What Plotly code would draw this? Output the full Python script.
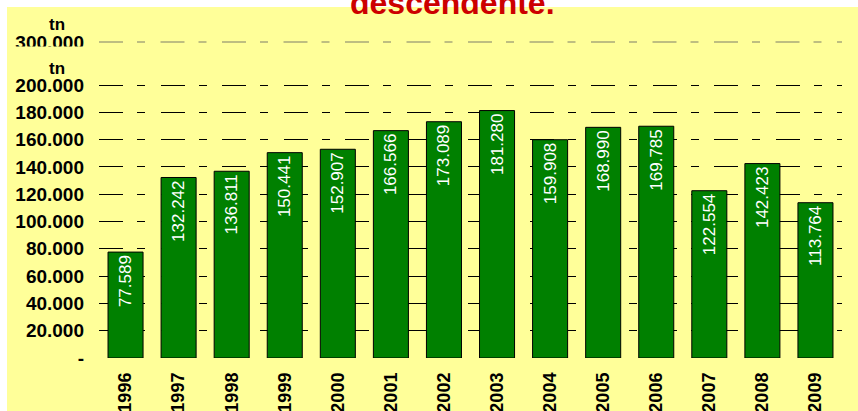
import plotly.graph_objects as go

# ---- data ----
years = ["1996", "1997", "1998", "1999", "2000", "2001", "2002",
         "2003", "2004", "2005", "2006", "2007", "2008", "2009"]
tonnes = [77589, 132242, 136811, 150441, 152907, 166566, 173089,
          181280, 159908, 168990, 169785, 122554, 142423, 113764]
tick_vals = [0, 20000, 40000, 60000, 80000, 100000, 120000, 140000,
             160000, 180000, 200000]
tick_text = ["-", "20.000", "40.000", "60.000", "80.000", "100.000",
             "120.000", "140.000", "160.000", "180.000", "200.000"]
break_label = "300.000"   # label of the upper (broken-axis) reference line
axis_top = 231500         # where the 300.000 reference line sits
unit = "tn"
title_text = "descendente."

bar_text = [f"{v:,}".replace(",", ".") for v in tonnes]

# ---- layout geometry (pixels) ----
W, H = 858, 411
L, R, T, B = 99, 16, 42, 53
PW, PH = W - L - R, H - T - B


def px_x(x):
    return (x - L) / PW


def px_y(y):
    return (H - B - y) / PH


FONT = "Liberation Sans, Arial, sans-serif"
YELLOW = "#FFFF99"
DASH = "24px,14px,8px,15.5px"

fig = go.Figure(go.Bar(
    x=years, y=tonnes,
    text=bar_text,
    textposition="inside",
    insidetextanchor="end",
    textangle=-90,
    textfont=dict(family=FONT, size=17, color="white"),
    marker=dict(color="#008000", line=dict(color="black", width=1)),
    constraintext="none",
    hoverinfo="skip",
))

fig.update_layout(
    width=W, height=H,
    margin=dict(l=L, r=R, t=T, b=B, pad=0, autoexpand=False),
    paper_bgcolor=YELLOW, plot_bgcolor=YELLOW,
    bargap=0.34,
    showlegend=False,
    font=dict(family=FONT, color="black"),
)

fig.update_xaxes(
    type="category",
    tickangle=-90,
    tickfont=dict(family=FONT, size=18, color="black", weight="bold"),
    showgrid=False, showline=False, zeroline=False, ticks="",
    ticklabelstandoff=10,
    automargin=False,
)

fig.update_yaxes(
    range=[0, axis_top],
    tickvals=tick_vals + [axis_top],
    ticktext=tick_text + [break_label],
    tickfont=dict(family=FONT, size=19, color="black", weight="bold"),
    showgrid=True, gridcolor="black", gridwidth=1, griddash=DASH,
    zeroline=False, showline=False, ticks="",
    ticklabelstandoff=14,
    automargin=False,
)

shapes = [
    # white slide margins (top and left)
    dict(type="rect", xref="paper", yref="paper",
         x0=px_x(-5), x1=px_x(W + 5), y0=px_y(7), y1=px_y(-5),
         fillcolor="white", line=dict(width=0), layer="below"),
    dict(type="rect", xref="paper", yref="paper",
         x0=px_x(-5), x1=px_x(7), y0=px_y(H + 5), y1=px_y(-5),
         fillcolor="white", line=dict(width=0), layer="below"),
    # grey upper reference line (over the default grid line)
    dict(type="line", xref="paper", yref="paper",
         x0=0, x1=1, y0=1, y1=1,
         line=dict(color="#7f7f6a", width=1.2, dash=DASH), layer="above"),
    # clip the bottom of the 300.000 label
    dict(type="rect", xref="paper", yref="paper",
         x0=px_x(8), x1=px_x(92), y0=px_y(54), y1=px_y(46.5),
         fillcolor=YELLOW, line=dict(width=0), layer="above"),
]
fig.update_layout(shapes=shapes)

annotations = [
    dict(text=unit, x=px_x(57), y=px_y(25), xref="paper", yref="paper",
         showarrow=False, xanchor="center", yanchor="middle",
         font=dict(family=FONT, size=17, color="black", weight="bold")),
    dict(text=unit, x=px_x(57), y=px_y(68), xref="paper", yref="paper",
         showarrow=False, xanchor="center", yanchor="middle",
         font=dict(family=FONT, size=17, color="black", weight="bold")),
    dict(text=title_text, x=px_x(452), y=px_y(3), xref="paper", yref="paper",
         showarrow=False, xanchor="center", yanchor="middle",
         font=dict(family=FONT, size=32, color="#CC0000", weight="bold")),
]
fig.update_layout(annotations=annotations)

fig.write_html(
    "out.html",
    config={"displayModeBar": False},
    post_script="document.body.style.margin='0px';document.body.style.overflow='hidden';",
)
